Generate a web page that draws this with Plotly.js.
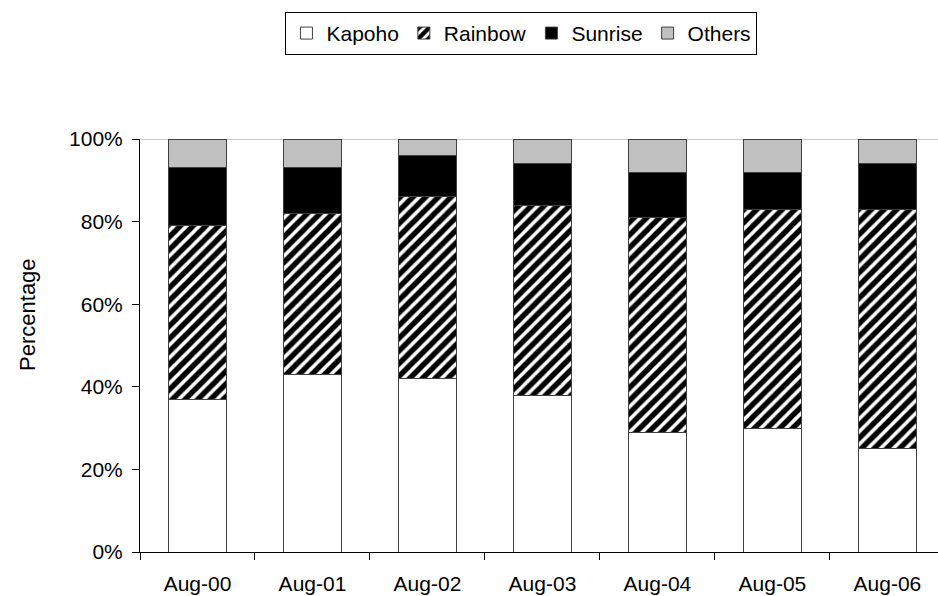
<!DOCTYPE html>
<html>
<head>
<meta charset="utf-8">
<script src="https://cdn.plot.ly/plotly-3.0.1.min.js"></script>
<style>html,body{margin:0;padding:0;background:#fff;}#chart{width:938px;height:596px;}</style>
</head>
<body>
<div id="chart"></div>
<script>
const categories = ["Aug-00", "Aug-01", "Aug-02", "Aug-03", "Aug-04", "Aug-05", "Aug-06"];
const kapoho  = [37, 43, 42, 38, 29, 30, 25];
const rainbow = [42, 39, 44, 46, 52, 53, 58];
const sunrise = [14, 11, 10, 10, 11, 9, 11];
const others  = [7, 7, 4, 6, 8, 8, 6];
const yTickVals = [0, 20, 40, 60, 80, 100];
const yTickText = ["0%", "20%", "40%", "60%", "80%", "100%"];
const yTitle = "Percentage";

const outline = {color: "#404040", width: 1};
const traces = [
  {name: "Kapoho", x: categories, y: kapoho, type: "bar",
   marker: {color: "#ffffff", line: outline}},
  {name: "Rainbow", x: categories, y: rainbow, type: "bar",
   marker: {color: "#ffffff", line: outline,
            pattern: {shape: "/", fgcolor: "#000000", bgcolor: "#ffffff", size: 9, solidity: 0.6}}},
  {name: "Sunrise", x: categories, y: sunrise, type: "bar",
   marker: {color: "#000000", line: outline}},
  {name: "Others", x: categories, y: others, type: "bar",
   marker: {color: "#c0c0c0", line: outline}}
];

const layout = {
  width: 938, height: 596,
  barmode: "stack",
  bargap: 0.5,
  margin: {l: 140, r: 0, t: 139, b: 44},
  paper_bgcolor: "#ffffff", plot_bgcolor: "#ffffff",
  font: {family: "Liberation Sans, Arial, sans-serif", size: 21, color: "#000000"},
  showlegend: true,
  legend: {orientation: "h", xref: "paper", x: 0.478, xanchor: "center",
           yref: "container", y: 0.98, yanchor: "top",
           bordercolor: "#000000", borderwidth: 1, traceorder: "normal",
           font: {size: 21}, itemclick: false},
  xaxis: {type: "category", range: [-0.5, 6.44], showline: true, linecolor: "#000000", linewidth: 1,
          ticks: "outside", tickson: "boundaries", ticklen: 7, tickcolor: "#000000",
          ticklabelstandoff: 13,
          showgrid: false, tickfont: {size: 21}, fixedrange: true},
  yaxis: {range: [0, 100], tickvals: yTickVals, ticktext: yTickText, showline: true,
          linecolor: "#000000", linewidth: 1, ticks: "outside", ticklen: 7, tickcolor: "#000000",
          ticklabelstandoff: 5,
          showgrid: false, zeroline: false, tickfont: {size: 21}, fixedrange: true},
  annotations: [{text: yTitle, textangle: -90, xref: "paper", yref: "paper",
                 x: 0, y: 0.574, xanchor: "center", yanchor: "middle", xshift: -112,
                 showarrow: false, font: {size: 22}}],
  shapes: [{type: "line", xref: "paper", yref: "y", x0: 0, x1: 1, y0: 100, y1: 100,
            line: {color: "#909090", width: 1}, layer: "below"}]
};

Plotly.newPlot("chart", traces, layout, {displayModeBar: false, staticPlot: true});
</script>
</body>
</html>
